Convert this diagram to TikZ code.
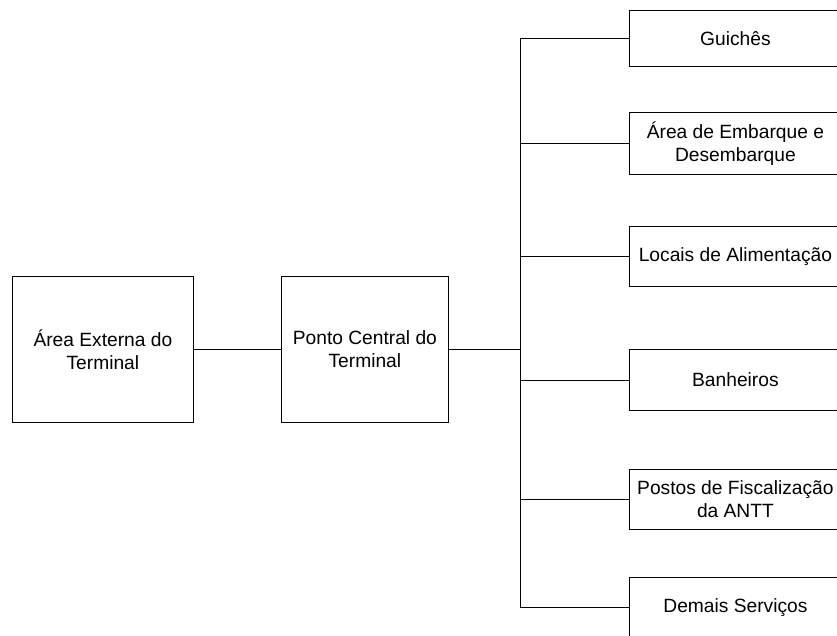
\documentclass[tikz,border=0pt]{standalone}
\usepackage{fontspec}
\setmainfont{Liberation Sans}
\begin{document}
\begin{tikzpicture}[x=1pt,y=-1pt,
  box/.style={draw, line width=0.8pt, inner sep=0pt, align=center, anchor=north west,
    font=\fontsize{19.2}{23}\selectfont},
  rbox/.style={box, minimum width=212, minimum height=#1},
  link/.style={line width=0.8pt},
  thick link/.style={line width=1.8pt}]
\useasboundingbox (0,0) rectangle (837,635);
\clip (0,0) rectangle (837,635);
\node[box, minimum width=181, minimum height=146] (ext) at (12,276) {Área Externa do\\Terminal};
\node[box, minimum width=167, minimum height=146] (cen) at (281,276) {Ponto Central do\\Terminal};
\node[rbox=56] (g) at (629,10) {Guichês};
\node[rbox=62] (a) at (629,112) {Área de Embarque e\\Desembarque};
\node[rbox=60] (l) at (629,226) {Locais de Alimentação};
\node[rbox=61] (b) at (629,349) {Banheiros};
\node[rbox=60] (p) at (629,469) {Postos de Fiscalização\\da ANTT};
\node[rbox=60] (d) at (629,577) {Demais Serviços};
\coordinate (tk) at (520,0);
\draw[link] (ext.east) -- (cen.west);
\draw[thick link] (cen.east) -- (cen.east -| tk);
\draw[link] (g.west -| tk) -- (d.west -| tk);
\foreach \n in {g,a,l,b,p,d} \draw[link] (\n.west) -- (\n.west -| tk);
\end{tikzpicture}
\end{document}
